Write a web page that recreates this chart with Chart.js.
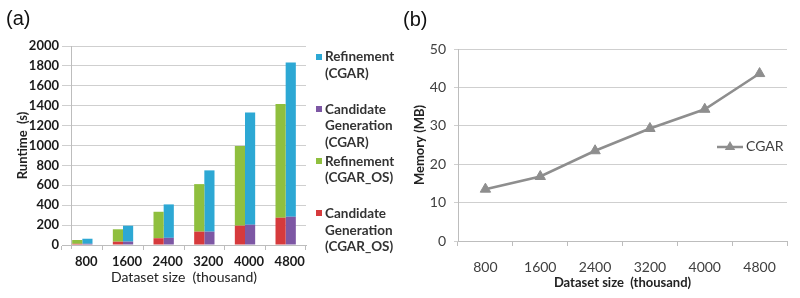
<!DOCTYPE html>
<html><head><meta charset="utf-8">
<script src="https://cdn.jsdelivr.net/npm/chart.js@4.4.0/dist/chart.umd.min.js"></script>
<style>
html,body{margin:0;padding:0;background:#fff;width:800px;height:298px;overflow:hidden;}
#wrap{position:relative;width:800px;height:298px;}
canvas{position:absolute;top:0;}
#ca{left:0}#cb{left:400px}
.plab{position:absolute;font-family:"Liberation Sans",Arial,sans-serif;font-size:20px;color:#111;line-height:20px;}
.li{position:absolute;font-family:Lato,sans-serif;font-weight:bold;font-size:13.5px;color:#333;line-height:16.5px;white-space:nowrap;}
.sq{position:absolute;width:6px;height:6px;}
#legB{position:absolute;left:716px;top:139px;font-family:Lato,sans-serif;font-size:14px;color:#404040;}
</style></head>
<body><div id="wrap">
<canvas id="ca" width="400" height="298"></canvas>
<canvas id="cb" width="400" height="298"></canvas>
<div class="plab" style="left:6px;top:8px">(a)</div>
<div class="plab" style="left:403px;top:9px">(b)</div>
<div id="legA"></div>
<div id="legB"></div>
</div>
<script>
// ---- data ----
const categories = ['800', '1600', '2400', '3200', '4000', '4800'];
const candGenOS   = [12, 33, 68, 134, 194, 274];
const refineOS    = [38, 125, 266, 478, 801, 1144];
const candGenCGAR = [12, 34, 72, 134, 204, 284];
const refineCGAR  = [51, 160, 336, 616, 1128, 1551];
const memoryCGAR  = [13.5, 16.8, 23.5, 29.3, 34.3, 43.6];
const seriesNames = ['Candidate Generation (CGAR_OS)', 'Refinement (CGAR_OS)', 'Candidate Generation (CGAR)', 'Refinement (CGAR)'];
const lineName = 'CGAR';
const runtimeAxis = {min: 0, max: 2000, step: 200};
const memoryAxis = {min: 0, max: 50, step: 10};
const xTitle = 'Dataset size  (thousand)';

const colors = ['#D63A3C', '#8FBF3E', '#7D57A4', '#2DA8D4'];
const gridC = '#CFCFCF';

const axisLineA = {
  id: 'axisLineA',
  beforeDatasetsDraw(chart) {
    const {ctx, chartArea: a} = chart;
    ctx.save();
    ctx.strokeStyle = '#BDBDBD'; ctx.lineWidth = 1;
    const x = Math.round(a.left + 9) + 0.5;
    ctx.beginPath(); ctx.moveTo(x, a.top); ctx.lineTo(x, a.bottom + 4); ctx.stroke();
    ctx.restore();
  }
};

const chartA = new Chart(document.getElementById('ca'), {
  type: 'bar',
  data: {
    labels: categories,
    datasets: [
      {label: seriesNames[0], data: candGenOS, stack: 'os', backgroundColor: colors[0]},
      {label: seriesNames[1], data: refineOS, stack: 'os', backgroundColor: colors[1]},
      {label: seriesNames[2], data: candGenCGAR, stack: 'cgar', backgroundColor: colors[2]},
      {label: seriesNames[3], data: refineCGAR, stack: 'cgar', backgroundColor: colors[3]}
    ]
  },
  options: {
    responsive: false, animation: false,
    categoryPercentage: 0.5, barPercentage: 1,
    layout: {padding: {left: 0, right: 94, top: 46, bottom: 4}},
    plugins: {legend: {display: false}, tooltip: {enabled: false}},
    scales: {
      x: {
        stacked: true,
        afterFit: s => { s.height = 49; },
        grid: {drawOnChartArea: false, drawTicks: true, tickLength: 5, color: '#BDBDBD', offset: true},
        border: {color: '#BDBDBD'},
        ticks: {font: {family: 'Lato', weight: 'bold', size: 13}, color: '#1a1a1a', padding: 4, labelOffset: 4, maxRotation: 0},
        title: {display: true, text: xTitle, font: {family: 'Lato', size: 14}, color: '#222', padding: {top: 0, bottom: 8}}
      },
      y: {
        stacked: true,
        min: runtimeAxis.min, max: runtimeAxis.max,
        afterFit: s => { s.width = 62; },
        grid: {color: gridC, drawTicks: false},
        border: {display: false},
        ticks: {stepSize: runtimeAxis.step, format: {useGrouping: false}, font: {family: 'Lato', weight: 'bold', size: 13}, color: '#1a1a1a', padding: 3},
        title: {display: true, text: 'Runtime  (s)', font: {family: 'Lato', weight: 'bold', size: 13}, color: '#222', padding: {top: 15, bottom: 0}}
      }
    }
  },
  plugins: [axisLineA]
});

// HTML legend for panel (a), built from the datasets (reverse order)
(function () {
  const leg = document.getElementById('legA');
  const ds = chartA.data.datasets.slice().reverse();
  ds.forEach((d, i) => {
    const cy = 56.7 + i * 52.2;
    const sq = document.createElement('div');
    sq.className = 'sq';
    sq.style.left = '316px'; sq.style.top = (cy - 3) + 'px'; sq.style.background = d.backgroundColor;
    leg.appendChild(sq);
    const t = document.createElement('div');
    t.className = 'li';
    t.style.left = '325px'; t.style.top = (cy - 8.25) + 'px';
    t.innerHTML = d.label.split(' ').join('<br>');
    leg.appendChild(t);
  });
})();

const lineC = '#8E8E8E';
const chartB = new Chart(document.getElementById('cb'), {
  type: 'line',
  data: {
    labels: categories,
    datasets: [{label: lineName, data: memoryCGAR, borderColor: lineC, backgroundColor: lineC,
      borderWidth: 2.5, pointStyle: 'triangle', pointRadius: 6, pointBorderWidth: 1, pointBorderColor: lineC, tension: 0}]
  },
  options: {
    responsive: false, animation: false,
    layout: {padding: {left: 0, right: 13, top: 49, bottom: 4}},
    plugins: {legend: {display: false}, tooltip: {enabled: false}},
    scales: {
      x: {
        offset: true,
        afterFit: s => { s.height = 53; },
        grid: {drawOnChartArea: false, drawTicks: true, tickLength: 5, color: '#BDBDBD', offset: true},
        border: {color: '#BDBDBD'},
        ticks: {font: {family: 'Lato', size: 14}, color: '#404040', padding: 13, maxRotation: 0},
        title: {display: true, text: xTitle, font: {family: 'Lato', weight: 'bold', size: 13}, color: '#222', padding: {top: 0, bottom: 3}}
      },
      y: {
        min: memoryAxis.min, max: memoryAxis.max,
        afterFit: s => { s.width = 58; },
        grid: {color: gridC, drawTicks: true, tickLength: 4},
        border: {color: '#BDBDBD'},
        ticks: {stepSize: memoryAxis.step, font: {family: 'Lato', size: 14}, color: '#404040', padding: 8},
        title: {display: true, text: 'Memory (MB)', font: {family: 'Lato', weight: 'bold', size: 13}, color: '#222', padding: {top: 12, bottom: 0}}
      }
    }
  }
});

// HTML legend for panel (b)
(function () {
  const d = chartB.data.datasets[0];
  document.getElementById('legB').innerHTML =
    '<svg width="28" height="16" style="position:absolute;left:0;top:0">' +
    '<line x1="1" y1="8" x2="27" y2="8" stroke="' + d.borderColor + '" stroke-width="2.5"/>' +
    '<polygon points="14,2 19.2,11 8.8,11" fill="' + d.borderColor + '"/></svg>' +
    '<span style="position:absolute;left:30px;top:-1px;line-height:16px">' + d.label + '</span>';
})();
</script>
</body></html>
